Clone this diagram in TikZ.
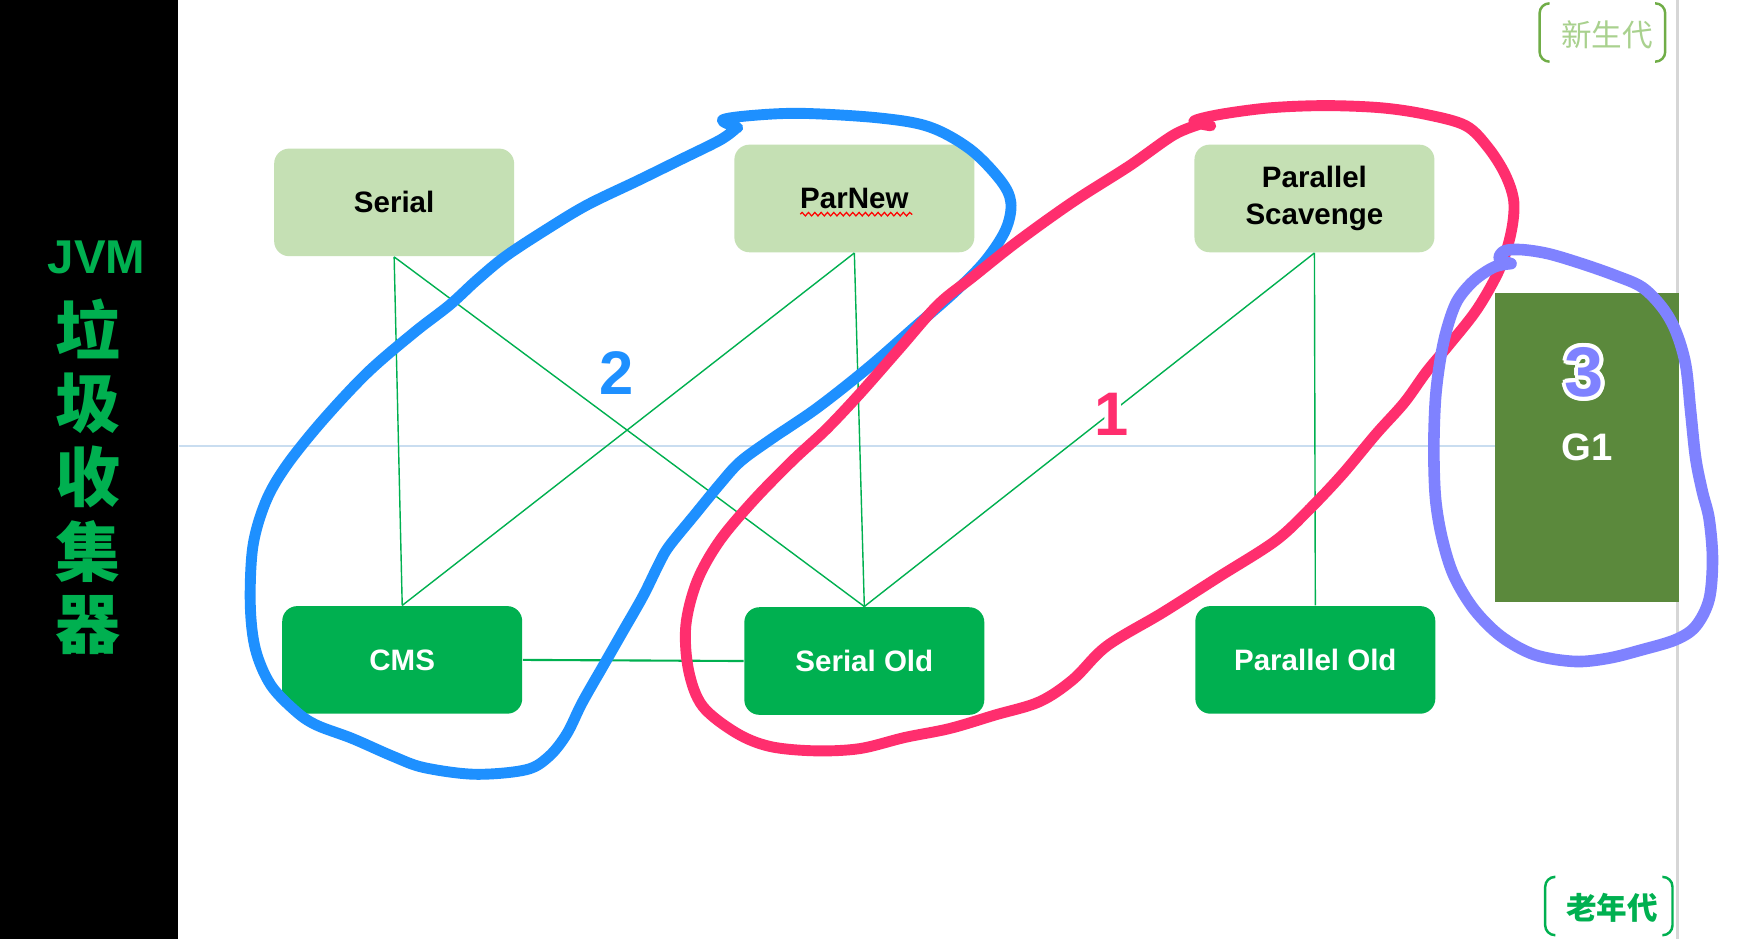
\documentclass[tikz,border=0pt]{standalone}
\usepackage{fontspec}
\setmainfont{Liberation Sans}
\newfontfamily\cjk{Noto Sans CJK SC}
\newfontfamily\numFont{Liberation Sans Bold}
\usepackage{contour}
\contourlength{1.1pt}
\contournumber{16}
\usetikzlibrary{decorations.pathmorphing}

\definecolor{boxGreen}{HTML}{00B050}
\definecolor{paleGreen}{HTML}{C5E0B4}
\definecolor{oliveGreen}{HTML}{5B893C}
\definecolor{penBlue}{HTML}{1E90FF}
\definecolor{penPink}{HTML}{FF2E6E}
\definecolor{penPurple}{HTML}{7F82FF}
\definecolor{bracketGreen}{HTML}{70AD47}
\definecolor{youngText}{HTML}{A9D18E}
\definecolor{guideBlue}{HTML}{C9DDF0}
\definecolor{edgeGrey}{HTML}{D6D6D6}

\begin{document}
\begin{tikzpicture}[x=0.011213cm, y=-0.011213cm,
  labelFont/.style={font=\fontsize{8.4}{10.5}\selectfont\bfseries},
  youngBox/.style={labelFont, fill=paleGreen, rounded corners=0.15cm,
    minimum width=2.4cm, minimum height=1.076cm, inner sep=0pt,
    align=center, text=black},
  oldBox/.style={youngBox, fill=boxGreen, text=white},
  linkLine/.style={boxGreen, line width=0.4pt},
  penLine/.style={line width=3.1pt, line cap=round, line join=round},
  cjkChar/.style={font=\cjk\bfseries\fontsize{18.5}{19}\selectfont, text=boxGreen},
  genBracket/.style={line width=0.7pt, rounded corners=2.8pt}
]
    \newcommand{\loopNum}[5]{
        \node[font=\numFont\fontsize{#5}{#5}\selectfont, text=#3] (num#4) at (#1,#2)
          {\contour{white}{#4}};
    }
  \useasboundingbox (0,0) rectangle (1566,837);
  \fill[white] (0,0) rectangle (1566,837);

  % left title panel
  \fill[black] (0,0) rectangle (158.8,837);
  \node[font=\fontsize{13.5}{14}\selectfont\bfseries, text=boxGreen] (jvm) at (86.2,229.7) {JVM};
  \foreach \ch [count=\i from 0] in {垃,圾,收,集,器}
    \node[cjkChar] (char\i) at (78.5,293.5+66*\i) {\ch};

  % guide lines
  \draw[edgeGrey, line width=0.6pt] (1496,0) -- (1496,837);
  \draw[guideBlue, line width=0.5pt] (160,398) -- (1333.2,398);

  % generation tags
  \node[font=\cjk\fontsize{8.7}{9}\selectfont, text=youngText] (young) at (1433,31) {新生代};
  \draw[genBracket, bracketGreen] (1381.5,3) -- (1373,3) -- (1373,55) -- (1381.5,55);
  \draw[genBracket, bracketGreen] (1476,3) -- (1485,3) -- (1485,55) -- (1476,55);
  \node[font=\cjk\bfseries\fontsize{8.7}{9}\selectfont, text=boxGreen] (old) at (1437.5,809.5) {老年代};
  \draw[genBracket, boxGreen] (1387,782) -- (1378,782) -- (1378,834) -- (1387,834);
  \draw[genBracket, boxGreen] (1482.5,782) -- (1491.5,782) -- (1491.5,834) -- (1482.5,834);

  % collectors
  \node[youngBox] (serial) at (351.5,180.5) {Serial};
  \node[youngBox] (parnew) at (761.9,177) {ParNew};
  \node[youngBox] (scavenge) at (1172.2,177) {Parallel\\Scavenge};
  \node[oldBox] (cms) at (358.7,588.5) {CMS};
  \node[oldBox] (serialold) at (770.8,589.5) {Serial Old};
  \node[oldBox] (parallelold) at (1173,588.5) {Parallel Old};
  \node[fill=oliveGreen, minimum width=1.837cm, minimum height=3.095cm, inner sep=0pt,
    text=white, font=\fontsize{10.9}{11}\selectfont\bfseries] (g1) at (1415.1,399) {G1};

  \draw[red, line width=0.35pt, decorate,
    decoration={snake, amplitude=0.5pt, segment length=1.8pt}] (713.6,191) -- (813.6,191);

  \foreach \a/\b in {serial/cms, serial/serialold, parnew/cms, parnew/serialold,
                     scavenge/serialold, scavenge/parallelold}
    \draw[linkLine] (\a.south) -- (\b.north);
  \draw[linkLine, line width=0.6pt] (cms.east) -- (serialold.west);

  % hand drawn groups
  \loopNum{549.5}{334.5}{penBlue}{2}{17.5}
  \loopNum{991.6}{371.5}{penPink}{1}{17.5}
  \loopNum{1412.7}{333.8}{penPurple}{3}{20}

  \draw[penLine, penBlue] plot[smooth, tension=0.55] coordinates {
    (657.9,113.9) (644.3,107.1) (669.3,103.1) (714.8,101.1) (783.1,105.1) (828.6,113.1)
    (865.0,133.0) (892.3,160.9) (901.5,180.8) (896.9,204.7) (878.7,232.6) (851.4,260.4)
    (815.0,292.3) (774.0,328.1) (728.5,364.0) (687.5,391.8) (660.2,411.7) (642.0,431.7)
    (619.2,459.5) (596.5,487.4) (587.4,503.3) (573.7,531.2) (555.5,563.1) (537.3,594.9)
    (519.1,626.8) (505.4,654.6) (489.5,674.6) (469.0,686.5) (423.5,690.5) (378.0,684.5)
    (350.7,674.6) (314.2,658.6) (282.4,646.7) (264.2,634.7) (241.4,610.8) (227.8,579.0)
    (223.2,539.2) (225.5,487.4) (236.9,447.6) (255.1,415.7) (286.9,375.9) (327.9,332.1)
    (370.0,296.0) (401.0,272.0) (425.0,250.0) (450.8,228.6) (487.2,204.7) (523.6,182.8)
    (569.2,160.9) (605.6,143.0) (642.0,125.0) (655.7,115.1)};

  \draw[penLine, penPink] plot[smooth, tension=0.55] coordinates {
    (1079.7,112.2) (1064.6,108.2) (1087.2,102.2) (1132.2,96.2) (1182.3,94.2) (1232.4,96.2)
    (1272.4,102.2) (1307.4,112.2) (1327.5,132.1) (1342.5,156.0) (1350.0,179.9) (1347.5,207.7)
    (1337.5,239.6) (1317.5,275.4) (1292.4,307.3) (1272.4,331.2) (1252.4,359.0) (1227.3,386.9)
    (1197.3,422.8) (1167.3,454.6) (1137.2,482.5) (1087.2,514.3) (1037.1,546.2) (987.1,576.1)
    (957.0,605.9) (927.0,625.8) (886.9,637.8) (846.9,649.7) (806.8,657.7) (766.8,667.6)
    (726.7,669.6) (686.7,665.7) (656.7,653.7) (626.6,629.8) (614.1,597.9) (611.6,558.1)
    (621.6,518.3) (641.6,482.5) (671.7,446.6) (706.7,410.8) (736.8,382.9) (766.8,351.1)
    (801.8,311.3) (836.9,271.4) (866.9,247.5) (907.0,215.7) (957.0,179.9) (1007.1,148.0)
    (1047.1,120.1) (1072.1,110.2)};

  \draw[penLine, penPurple, line width=3.3pt] plot[smooth, tension=0.55] coordinates {
    (1347.5,235.1) (1337.1,230.6) (1341.6,223.8) (1356.5,222.6) (1380.5,226.2) (1410.4,235.1)
    (1440.3,245.6) (1464.3,256.1) (1482.3,274.1) (1494.3,295.0) (1503.2,325.0) (1507.7,366.9)
    (1512.2,408.8) (1518.2,438.7) (1524.2,462.7) (1527.2,498.6) (1524.2,534.5) (1512.2,558.5)
    (1494.3,570.5) (1464.3,579.5) (1434.4,587.0) (1404.4,589.9) (1368.5,583.9) (1338.6,567.5)
    (1314.6,543.5) (1296.6,513.6) (1286.2,480.6) (1280.2,444.7) (1278.7,399.8) (1280.2,354.9)
    (1284.7,319.0) (1290.7,292.0) (1299.6,268.1) (1314.6,250.1) (1332.6,238.1) (1347.5,235.1)};
\end{tikzpicture}
\end{document}
